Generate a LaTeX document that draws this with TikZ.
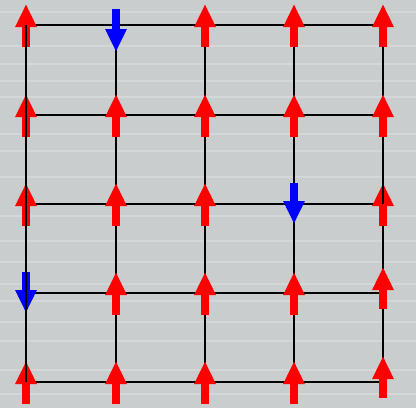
\documentclass[tikz,border=0pt]{standalone}
\usetikzlibrary{arrows.meta,calc}
\definecolor{bggray}{RGB}{202,205,206}
\definecolor{spinred}{RGB}{255,0,0}
\definecolor{spinblue}{RGB}{0,0,255}
\tikzset{
  bond/.style={black, line width=1pt},
  spin/.style={line width=4.2pt, -{Triangle[width=10pt,length=11.5pt]}},
  spinup/.style={spin, spinred},
  spindown/.style={spin, spinblue},
  streak/.style={white, opacity=0.2, line width=1.2pt},
}
\begin{document}
\begin{tikzpicture}[x=0.5pt, y=-0.5pt]
  % Background
  \fill[bggray] (0,0) rectangle (416,408);
  \useasboundingbox (0,0) rectangle (416,408);
  \foreach \y in {12,46,64,81,97,134,151,177,216,241,262,284,301,322,341,370,394}
    \draw[streak] (0,\y) -- (416,\y);
  % Lattice sites
  \foreach \i/\x in {0/26,1/116,2/205,3/294,4/383}
    \foreach \j/\y in {0/25,1/115,2/204,3/293,4/382}
      \coordinate (v\i\j) at (\x,\y);
  % Bonds
  \foreach \a/\b in {0/1,1/2,2/3,3/4} {
    \foreach \k in {0,...,4}
      \draw[bond] (v\a\k) -- (v\b\k);
    \foreach \k in {1,...,4}
      \draw[bond] (v\k\a) -- (v\k\b);
  }
  % Spins up
  \foreach \s in {00,20,30,40, 01,11,21,31,41, 02,12,22,42, 13,23,33, 04,14,24,34}
    \draw[spinup] ($(v\s)+(0,22)$) -- ($(v\s)+(0,-21)$);
  % Right edge, a little higher
  \draw[spinup] ($(v43)+(0,16)$) -- ($(v43)+(0,-26)$);
  \draw[spinup] ($(v44)+(0,16)$) -- ($(v44)+(0,-26)$);
  % Spins down
  \draw[spindown] ($(v10)+(0,-16)$) -- ($(v10)+(0,27)$);
  \foreach \s in {32,03}
    \draw[spindown] ($(v\s)+(0,-21)$) -- ($(v\s)+(0,20)$);
  % Left edge on top
  \foreach \a/\b in {0/1,1/2,2/3,3/4}
    \draw[bond] (v0\a) -- (v0\b);
  \draw[bond] (v42) -- ++(0,-20);
\end{tikzpicture}
\end{document}
